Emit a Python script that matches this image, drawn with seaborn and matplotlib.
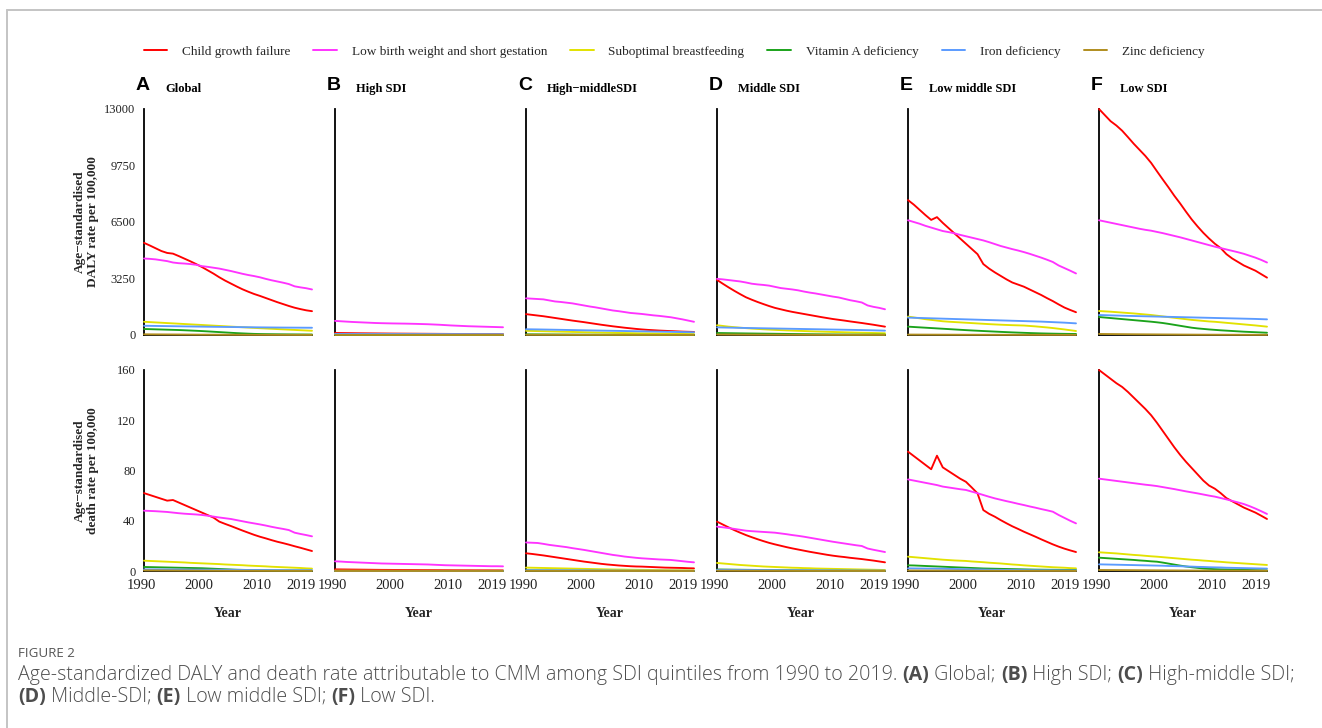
import matplotlib
matplotlib.use("Agg")
import matplotlib.pyplot as plt
import matplotlib.transforms as mtransforms
from matplotlib.lines import Line2D
import pandas as pd
import seaborn as sns

# ---------------------------------------------------------------- data
years = list(range(1990, 2020))
risk_names = ["Child growth failure", "Low birth weight and short gestation",
              "Suboptimal breastfeeding", "Vitamin A deficiency",
              "Iron deficiency", "Zinc deficiency"]
risk_colors = ["#FF0000", "#FF33FF", "#E2E200", "#1BA31B", "#5B9BFF", "#B08D1E"]

region_letters = ["A", "B", "C", "D", "E", "F"]
region_titles = ["Global", "High SDI", "High\u2212middleSDI", "Middle SDI",
                 "Low middle SDI", "Low SDI"]

daly_ticks = [0, 3250, 6500, 9750, 13000]
death_ticks = [0, 40, 80, 120, 160]
year_ticks = [1990, 2000, 2010, 2019]

# Global -- DALY rate
glob_daly_growth = [5300, 5150, 4990, 4830, 4720, 4680, 4540, 4390, 4240, 4080, 3910, 3720, 3530, 3320, 3130,
                    2960, 2790, 2630, 2490, 2360, 2250, 2130, 2010, 1890, 1780, 1670, 1570, 1490, 1420, 1370]
glob_daly_lbw = [4400, 4380, 4350, 4300, 4250, 4170, 4130, 4110, 4080, 4040, 3960, 3920, 3870, 3820, 3750,
                 3680, 3600, 3520, 3450, 3390, 3320, 3230, 3150, 3080, 3010, 2930, 2800, 2740, 2690, 2620]
glob_daly_breast = [760, 742, 723, 705, 686, 668, 650, 631, 612, 594, 576, 557, 539, 520, 502,
                    483, 465, 446, 428, 410, 392, 375, 358, 341, 324, 307, 291, 275, 259, 243]
glob_daly_vita = [345, 336, 326, 316, 306, 296, 286, 272, 257, 242, 226, 207, 187, 167, 147,
                  127, 108, 92, 77, 64, 56, 50, 46, 42, 39, 36, 34, 32, 30, 28]
glob_daly_iron = [530, 526, 521, 516, 511, 506, 501, 496, 491, 486, 481, 476, 471, 467, 463,
                  459, 455, 451, 447, 443, 439, 436, 433, 430, 427, 425, 423, 421, 419, 417]
glob_daly_zinc = [40, 38, 36, 34, 32, 30, 28, 26, 24, 22, 20, 19, 18, 17, 16,
                  15, 14, 13, 12, 11, 10, 10, 9, 9, 8, 8, 7, 7, 7, 6]

# Global -- death rate
glob_death_growth = [62.0, 60.5, 59.0, 57.5, 56.0, 56.5, 54.5, 52.5, 50.5, 48.5, 46.5, 44.5, 42.5, 39.3, 37.5,
                     35.8, 34.0, 32.2, 30.5, 28.8, 27.3, 26.0, 24.6, 23.3, 22.2, 21.0, 19.7, 18.5, 17.2, 15.9]
glob_death_lbw = [48.0, 47.8, 47.6, 47.3, 47.0, 46.5, 46.0, 45.6, 45.3, 45.0, 44.6, 44.0, 43.3, 42.6, 42.0,
                  41.4, 40.5, 39.6, 38.7, 37.9, 37.1, 36.2, 35.2, 34.3, 33.5, 32.6, 30.5, 29.5, 28.6, 27.6]
glob_death_breast = [8.2, 8.0, 7.8, 7.6, 7.4, 7.2, 7.0, 6.8, 6.5, 6.3, 6.1, 5.9, 5.7, 5.5, 5.2,
                     5.0, 4.8, 4.6, 4.3, 4.1, 3.9, 3.7, 3.4, 3.2, 3.0, 2.8, 2.6, 2.4, 2.1, 1.9]
glob_death_vita = [3.2, 3.1, 3.0, 2.9, 2.8, 2.7, 2.6, 2.5, 2.4, 2.3, 2.2, 2.0, 1.8, 1.6, 1.4,
                   1.2, 1.0, 0.9, 0.8, 0.7, 0.6, 0.55, 0.5, 0.45, 0.4, 0.4, 0.35, 0.35, 0.3, 0.3]
glob_death_iron = [1.3, 1.28, 1.26, 1.24, 1.22, 1.2, 1.17, 1.14, 1.11, 1.08, 1.05, 1.02, 0.99, 0.96, 0.93,
                   0.9, 0.87, 0.84, 0.81, 0.78, 0.76, 0.74, 0.72, 0.7, 0.68, 0.66, 0.64, 0.62, 0.61, 0.6]
glob_death_zinc = [0.5, 0.48, 0.46, 0.44, 0.42, 0.4, 0.38, 0.36, 0.34, 0.32, 0.3, 0.28, 0.26, 0.24, 0.22,
                   0.2, 0.19, 0.18, 0.17, 0.16, 0.15, 0.14, 0.13, 0.12, 0.12, 0.11, 0.11, 0.1, 0.1, 0.1]

# High SDI -- DALY rate
high_daly_growth = [116, 112, 108, 104, 100, 97, 94, 91, 88, 85, 82, 80, 78, 76, 74,
                    72, 70, 68, 66, 64, 62, 60, 59, 58, 57, 56, 55, 54, 53, 52]
high_daly_lbw = [812, 790, 770, 750, 735, 720, 705, 690, 680, 672, 665, 660, 655, 648, 640,
                 630, 620, 605, 590, 570, 550, 535, 520, 505, 495, 485, 475, 465, 455, 445]
high_daly_breast = [45, 44, 43, 42, 41, 40, 39, 38, 37, 36, 35, 34, 33, 32, 31,
                    30, 29, 28, 27, 26, 25, 25, 24, 24, 23, 23, 22, 22, 21, 21]
high_daly_vita = [6, 6, 5, 5, 5, 5, 4, 4, 4, 4, 3, 3, 3, 3, 3,
                  3, 2, 2, 2, 2, 2, 2, 2, 2, 2, 2, 2, 2, 2, 2]
high_daly_iron = [60, 59, 58, 58, 57, 56, 56, 55, 55, 54, 54, 53, 53, 52, 52,
                  51, 51, 50, 50, 49, 49, 48, 48, 47, 47, 46, 46, 45, 45, 45]
high_daly_zinc = [5, 5, 5, 4, 4, 4, 4, 4, 3, 3, 3, 3, 3, 3, 3,
                  2, 2, 2, 2, 2, 2, 2, 2, 2, 2, 2, 2, 2, 2, 2]

# High SDI -- death rate
high_death_growth = [1.3, 1.25, 1.2, 1.15, 1.1, 1.05, 1.0, 0.95, 0.9, 0.88, 0.85, 0.82, 0.8, 0.78, 0.75,
                     0.72, 0.7, 0.68, 0.66, 0.64, 0.62, 0.6, 0.59, 0.58, 0.56, 0.55, 0.54, 0.53, 0.52, 0.5]
high_death_lbw = [7.7, 7.5, 7.2, 7.0, 6.8, 6.6, 6.4, 6.2, 6.0, 5.9, 5.8, 5.7, 5.6, 5.5, 5.4,
                  5.3, 5.2, 5.0, 4.8, 4.6, 4.5, 4.4, 4.3, 4.2, 4.1, 4.0, 3.9, 3.8, 3.8, 3.7]
high_death_breast = [0.3, 0.29, 0.28, 0.27, 0.26, 0.25, 0.24, 0.23, 0.22, 0.21, 0.2, 0.19, 0.18, 0.17, 0.16,
                     0.16, 0.15, 0.14, 0.14, 0.13, 0.13, 0.12, 0.12, 0.11, 0.11, 0.1, 0.1, 0.1, 0.1, 0.1]
high_death_vita = [0.06, 0.06, 0.06, 0.05, 0.05, 0.05, 0.05, 0.04, 0.04, 0.04, 0.04, 0.04, 0.03, 0.03, 0.03,
                   0.03, 0.03, 0.03, 0.02, 0.02, 0.02, 0.02, 0.02, 0.02, 0.02, 0.02, 0.02, 0.02, 0.02, 0.02]
high_death_iron = [0.12, 0.12, 0.12, 0.11, 0.11, 0.11, 0.11, 0.1, 0.1, 0.1, 0.1, 0.1, 0.1, 0.09, 0.09,
                   0.09, 0.09, 0.09, 0.09, 0.09, 0.08, 0.08, 0.08, 0.08, 0.08, 0.08, 0.08, 0.08, 0.08, 0.08]
high_death_zinc = [0.04, 0.04, 0.04, 0.04, 0.04, 0.03, 0.03, 0.03, 0.03, 0.03, 0.03, 0.03, 0.03, 0.03, 0.03,
                   0.02, 0.02, 0.02, 0.02, 0.02, 0.02, 0.02, 0.02, 0.02, 0.02, 0.02, 0.02, 0.02, 0.02, 0.02]

# High-middle SDI -- DALY rate
hmid_daly_growth = [1200, 1160, 1120, 1080, 1030, 980, 930, 880, 830, 785, 740, 690, 640, 590, 545,
                    500, 460, 420, 385, 350, 320, 295, 275, 255, 240, 225, 210, 195, 185, 175]
hmid_daly_lbw = [2110, 2090, 2070, 2050, 1990, 1930, 1900, 1860, 1820, 1760, 1700, 1640, 1590, 1530, 1470,
                 1410, 1370, 1320, 1270, 1240, 1210, 1170, 1130, 1100, 1060, 1020, 960, 900, 830, 760]
hmid_daly_breast = [240, 233, 225, 217, 209, 201, 193, 185, 177, 169, 161, 153, 146, 139, 132,
                    125, 118, 112, 106, 100, 94, 89, 84, 79, 74, 70, 66, 62, 58, 54]
hmid_daly_vita = [40, 38, 36, 34, 32, 30, 28, 26, 24, 22, 20, 18, 17, 15, 14,
                  13, 12, 11, 10, 9, 9, 8, 8, 7, 7, 6, 6, 6, 5, 5]
hmid_daly_iron = [330, 326, 321, 315, 309, 303, 297, 290, 284, 277, 271, 265, 259, 253, 247,
                  241, 235, 229, 223, 217, 211, 205, 199, 193, 187, 181, 175, 169, 163, 157]
hmid_daly_zinc = [14, 13, 13, 12, 12, 11, 11, 10, 10, 9, 9, 8, 8, 7, 7,
                  7, 6, 6, 6, 5, 5, 5, 5, 4, 4, 4, 4, 4, 3, 3]

# High-middle SDI -- death rate
hmid_death_growth = [14.1, 13.6, 13.0, 12.4, 11.7, 11.0, 10.3, 9.6, 8.9, 8.2, 7.5, 6.9, 6.3, 5.7, 5.2,
                     4.8, 4.4, 4.1, 3.8, 3.6, 3.5, 3.3, 3.1, 2.9, 2.7, 2.6, 2.5, 2.4, 2.2, 2.1]
hmid_death_lbw = [22.7, 22.5, 22.3, 21.6, 20.8, 20.2, 19.6, 19.0, 18.2, 17.5, 16.8, 16.0, 15.2, 14.4, 13.6,
                  12.8, 12.2, 11.5, 11.0, 10.5, 10.1, 9.8, 9.5, 9.2, 9.0, 8.8, 8.3, 7.8, 7.3, 6.9]
hmid_death_breast = [2.7, 2.6, 2.5, 2.4, 2.3, 2.2, 2.1, 2.0, 1.9, 1.8, 1.7, 1.6, 1.5, 1.4, 1.3,
                     1.2, 1.15, 1.1, 1.0, 0.95, 0.9, 0.85, 0.8, 0.75, 0.7, 0.65, 0.6, 0.58, 0.55, 0.5]
hmid_death_vita = [0.5, 0.48, 0.45, 0.42, 0.4, 0.37, 0.34, 0.31, 0.28, 0.25, 0.22, 0.2, 0.18, 0.16, 0.14,
                   0.12, 0.11, 0.1, 0.09, 0.08, 0.07, 0.07, 0.06, 0.06, 0.05, 0.05, 0.05, 0.05, 0.05, 0.05]
hmid_death_iron = [0.6, 0.59, 0.57, 0.55, 0.54, 0.52, 0.5, 0.48, 0.46, 0.45, 0.43, 0.41, 0.4, 0.38, 0.36,
                   0.35, 0.33, 0.32, 0.3, 0.29, 0.28, 0.27, 0.26, 0.25, 0.24, 0.23, 0.22, 0.21, 0.2, 0.2]
hmid_death_zinc = [0.12, 0.11, 0.11, 0.1, 0.1, 0.09, 0.09, 0.08, 0.08, 0.07, 0.07, 0.06, 0.06, 0.05, 0.05,
                   0.05, 0.04, 0.04, 0.04, 0.04, 0.03, 0.03, 0.03, 0.03, 0.03, 0.02, 0.02, 0.02, 0.02, 0.02]

# Middle SDI -- DALY rate
mid_daly_growth = [3170, 2950, 2740, 2540, 2350, 2170, 2030, 1900, 1780, 1665, 1560, 1480, 1400, 1330, 1270,
                   1210, 1150, 1090, 1030, 975, 920, 875, 830, 780, 735, 690, 640, 590, 535, 480]
mid_daly_lbw = [3230, 3200, 3160, 3120, 3080, 3020, 2950, 2910, 2880, 2840, 2770, 2700, 2660, 2620, 2570,
                2500, 2440, 2390, 2330, 2270, 2210, 2160, 2080, 2000, 1940, 1870, 1700, 1620, 1560, 1480]
mid_daly_breast = [560, 520, 480, 450, 420, 395, 370, 350, 330, 312, 295, 280, 265, 252, 240,
                   228, 216, 205, 195, 185, 175, 166, 157, 148, 140, 132, 124, 116, 108, 100]
mid_daly_vita = [115, 110, 105, 100, 95, 90, 86, 82, 78, 74, 70, 66, 62, 58, 54,
                 50, 46, 42, 39, 36, 33, 31, 29, 27, 25, 24, 23, 22, 21, 20]
mid_daly_iron = [440, 432, 425, 418, 411, 404, 398, 392, 386, 380, 374, 368, 362, 356, 350,
                 344, 338, 332, 326, 320, 314, 308, 302, 296, 290, 284, 276, 268, 259, 250]
mid_daly_zinc = [30, 29, 27, 26, 24, 23, 21, 20, 19, 18, 17, 16, 15, 14, 13,
                 12, 11, 11, 10, 9, 9, 8, 8, 7, 7, 6, 6, 6, 5, 5]

# Middle SDI -- death rate
mid_death_growth = [39.3, 37.0, 34.7, 32.5, 30.5, 28.6, 26.9, 25.3, 23.8, 22.4, 21.2, 20.1, 19.0, 18.0, 17.1,
                    16.2, 15.3, 14.5, 13.7, 12.9, 12.2, 11.6, 11.1, 10.5, 10.0, 9.5, 8.9, 8.3, 7.6, 6.9]
mid_death_lbw = [35.3, 34.8, 34.2, 33.5, 32.8, 32.1, 31.7, 31.4, 31.1, 30.8, 30.5, 29.9, 29.3, 28.6, 28.0,
                 27.3, 26.5, 25.7, 24.9, 24.1, 23.3, 22.6, 21.9, 21.2, 20.5, 19.9, 17.9, 16.9, 16.0, 15.1]
mid_death_breast = [6.4, 6.0, 5.6, 5.2, 4.8, 4.5, 4.2, 3.9, 3.6, 3.4, 3.2, 3.0, 2.8, 2.6, 2.5,
                    2.3, 2.2, 2.0, 1.9, 1.8, 1.7, 1.6, 1.5, 1.4, 1.3, 1.2, 1.1, 1.0, 0.9, 0.8]
mid_death_vita = [1.2, 1.15, 1.1, 1.05, 1.0, 0.95, 0.9, 0.85, 0.8, 0.75, 0.7, 0.65, 0.6, 0.55, 0.5,
                  0.45, 0.4, 0.36, 0.32, 0.29, 0.26, 0.23, 0.2, 0.18, 0.16, 0.14, 0.13, 0.12, 0.11, 0.1]
mid_death_iron = [0.9, 0.88, 0.86, 0.84, 0.82, 0.8, 0.78, 0.76, 0.74, 0.72, 0.7, 0.67, 0.64, 0.61, 0.58,
                  0.55, 0.52, 0.5, 0.48, 0.46, 0.44, 0.42, 0.4, 0.38, 0.36, 0.35, 0.34, 0.32, 0.31, 0.3]
mid_death_zinc = [0.3, 0.29, 0.27, 0.26, 0.24, 0.23, 0.21, 0.2, 0.19, 0.18, 0.17, 0.16, 0.15, 0.14, 0.13,
                  0.12, 0.11, 0.11, 0.1, 0.09, 0.09, 0.08, 0.08, 0.07, 0.07, 0.06, 0.06, 0.06, 0.05, 0.05]

# Low-middle SDI -- DALY rate
lmid_daly_growth = [7760, 7500, 7200, 6900, 6620, 6780, 6450, 6150, 5850, 5550, 5250, 4950, 4650, 4080, 3820,
                    3600, 3400, 3200, 3020, 2900, 2780, 2620, 2460, 2300, 2120, 1950, 1760, 1580, 1440, 1310]
lmid_daly_lbw = [6600, 6500, 6400, 6280, 6180, 6080, 5980, 5920, 5850, 5760, 5680, 5600, 5520, 5440, 5340,
                 5230, 5120, 5030, 4940, 4860, 4770, 4670, 4560, 4450, 4330, 4200, 4000, 3850, 3700, 3540]
lmid_daly_breast = [1060, 1010, 960, 910, 870, 830, 790, 765, 745, 725, 705, 685, 665, 645, 625,
                    608, 592, 578, 565, 555, 545, 520, 495, 465, 435, 400, 360, 320, 275, 230]
lmid_daly_vita = [480, 460, 440, 420, 400, 380, 360, 340, 320, 300, 280, 262, 245, 228, 212,
                  196, 180, 165, 150, 137, 125, 113, 102, 92, 84, 77, 71, 66, 62, 60]
lmid_daly_iron = [1000, 990, 980, 970, 960, 950, 940, 930, 920, 910, 900, 890, 880, 870, 860,
                  850, 840, 830, 820, 810, 800, 790, 780, 770, 755, 740, 725, 710, 690, 670]
lmid_daly_zinc = [25, 24, 23, 22, 21, 20, 19, 18, 17, 16, 15, 15, 14, 14, 13,
                  13, 12, 12, 11, 11, 10, 10, 10, 9, 9, 9, 9, 8, 8, 8]

# Low-middle SDI -- death rate
lmid_death_growth = [95.0, 91.5, 88.0, 84.5, 81.0, 91.8, 82.5, 79.5, 76.5, 73.5, 71.0, 66.5, 61.8, 48.5, 45.5,
                     43.2, 40.5, 38.0, 35.6, 33.5, 31.3, 29.3, 27.3, 25.2, 23.2, 21.2, 19.4, 17.8, 16.4, 15.1]
lmid_death_lbw = [72.9, 72.0, 71.1, 70.2, 69.3, 68.4, 67.2, 66.5, 65.8, 65.1, 64.5, 63.2, 61.9, 60.5, 59.1,
                  57.8, 56.7, 55.6, 54.6, 53.5, 52.5, 51.4, 50.4, 49.3, 48.3, 47.2, 44.6, 42.3, 40.0, 37.9]
lmid_death_breast = [11.4, 11.0, 10.6, 10.2, 9.8, 9.4, 9.0, 8.7, 8.4, 8.2, 8.0, 7.6, 7.3, 7.0, 6.6,
                     6.3, 6.0, 5.6, 5.2, 4.9, 4.5, 4.2, 3.9, 3.6, 3.3, 3.0, 2.8, 2.6, 2.3, 2.1]
lmid_death_vita = [4.5, 4.4, 4.2, 4.0, 3.8, 3.6, 3.4, 3.2, 3.0, 2.8, 2.6, 2.4, 2.2, 2.0, 1.9,
                   1.8, 1.7, 1.6, 1.5, 1.4, 1.3, 1.2, 1.1, 1.05, 1.0, 0.95, 0.9, 0.85, 0.8, 0.8]
lmid_death_iron = [2.1, 2.05, 2.0, 1.95, 1.9, 1.85, 1.8, 1.7, 1.6, 1.5, 1.4, 1.3, 1.2, 1.1, 1.0,
                   0.95, 0.9, 0.85, 0.8, 0.75, 0.7, 0.68, 0.65, 0.62, 0.6, 0.58, 0.56, 0.54, 0.52, 0.5]
lmid_death_zinc = [0.4, 0.39, 0.37, 0.36, 0.34, 0.33, 0.31, 0.3, 0.28, 0.27, 0.25, 0.24, 0.23, 0.22, 0.21,
                   0.2, 0.19, 0.18, 0.17, 0.16, 0.15, 0.14, 0.14, 0.13, 0.13, 0.12, 0.12, 0.11, 0.11, 0.1]

# Low SDI -- DALY rate
low_daly_growth = [13000, 12650, 12300, 12050, 11750, 11380, 11000, 10650, 10300, 9900, 9420, 8950, 8490, 8010, 7570,
                   7100, 6650, 6250, 5880, 5550, 5250, 5000, 4650, 4400, 4200, 4000, 3850, 3700, 3500, 3300]
low_daly_lbw = [6600, 6530, 6460, 6390, 6320, 6250, 6180, 6110, 6050, 6000, 5930, 5860, 5780, 5700, 5620,
                5530, 5440, 5350, 5260, 5170, 5080, 5000, 4920, 4840, 4760, 4670, 4560, 4450, 4320, 4170]
low_daly_breast = [1380, 1360, 1340, 1315, 1290, 1265, 1240, 1210, 1180, 1150, 1110, 1070, 1030, 990, 950,
                   910, 870, 840, 810, 780, 760, 730, 700, 670, 640, 610, 580, 550, 515, 480]
low_daly_vita = [1035, 1005, 975, 945, 915, 885, 855, 825, 795, 765, 730, 690, 640, 585, 530,
                 475, 420, 380, 350, 320, 295, 270, 250, 230, 210, 190, 175, 160, 145, 130]
low_daly_iron = [1150, 1140, 1130, 1120, 1110, 1100, 1092, 1084, 1076, 1068, 1060, 1052, 1044, 1036, 1028,
                 1020, 1012, 1004, 996, 988, 980, 972, 964, 956, 948, 940, 932, 924, 912, 900]
low_daly_zinc = [60, 57, 54, 51, 48, 45, 42, 40, 38, 36, 34, 32, 30, 28, 26,
                 24, 22, 20, 19, 18, 17, 16, 15, 14, 13, 12, 11, 10, 10, 10]

# Low SDI -- death rate
low_death_growth = [160.0, 156.5, 153.0, 149.5, 146.5, 142.5, 138.0, 133.5, 129.0, 124.0, 118.0, 111.5, 105.0, 98.5, 92.5,
                    87.0, 82.0, 77.0, 72.0, 68.0, 65.5, 62.0, 58.0, 55.5, 53.0, 50.5, 48.5, 46.5, 44.0, 41.4]
low_death_lbw = [73.5, 72.9, 72.3, 71.7, 71.1, 70.5, 69.9, 69.3, 68.7, 68.2, 67.6, 66.8, 66.0, 65.2, 64.3,
                 63.4, 62.6, 61.8, 60.9, 60.0, 59.2, 58.1, 57.0, 55.8, 54.6, 53.3, 51.6, 49.7, 47.6, 45.4]
low_death_breast = [14.9, 14.6, 14.3, 14.0, 13.6, 13.2, 12.8, 12.5, 12.1, 11.7, 11.4, 11.0, 10.6, 10.2, 9.8,
                    9.4, 9.0, 8.7, 8.3, 8.0, 7.6, 7.3, 6.9, 6.6, 6.3, 6.0, 5.7, 5.4, 5.1, 4.8]
low_death_vita = [10.6, 10.3, 10.0, 9.7, 9.4, 9.1, 8.8, 8.4, 8.1, 7.7, 7.4, 6.7, 5.9, 5.1, 4.3,
                  3.6, 3.0, 2.5, 2.0, 1.7, 1.5, 1.3, 1.2, 1.1, 1.0, 0.9, 0.8, 0.7, 0.6, 0.5]
low_death_iron = [5.3, 5.2, 5.1, 5.0, 4.9, 4.8, 4.7, 4.6, 4.5, 4.4, 4.3, 4.2, 4.0, 3.9, 3.8,
                  3.6, 3.5, 3.3, 3.2, 3.0, 2.9, 2.8, 2.6, 2.5, 2.4, 2.3, 2.2, 2.1, 2.0, 1.9]
low_death_zinc = [0.8, 0.78, 0.75, 0.72, 0.7, 0.67, 0.64, 0.61, 0.58, 0.55, 0.52, 0.5, 0.47, 0.45, 0.42,
                  0.4, 0.38, 0.36, 0.34, 0.32, 0.3, 0.29, 0.27, 0.26, 0.25, 0.24, 0.23, 0.22, 0.21, 0.2]

daly_series = [
    [glob_daly_growth, glob_daly_lbw, glob_daly_breast, glob_daly_vita, glob_daly_iron, glob_daly_zinc],
    [high_daly_growth, high_daly_lbw, high_daly_breast, high_daly_vita, high_daly_iron, high_daly_zinc],
    [hmid_daly_growth, hmid_daly_lbw, hmid_daly_breast, hmid_daly_vita, hmid_daly_iron, hmid_daly_zinc],
    [mid_daly_growth, mid_daly_lbw, mid_daly_breast, mid_daly_vita, mid_daly_iron, mid_daly_zinc],
    [lmid_daly_growth, lmid_daly_lbw, lmid_daly_breast, lmid_daly_vita, lmid_daly_iron, lmid_daly_zinc],
    [low_daly_growth, low_daly_lbw, low_daly_breast, low_daly_vita, low_daly_iron, low_daly_zinc],
]
death_series = [
    [glob_death_growth, glob_death_lbw, glob_death_breast, glob_death_vita, glob_death_iron, glob_death_zinc],
    [high_death_growth, high_death_lbw, high_death_breast, high_death_vita, high_death_iron, high_death_zinc],
    [hmid_death_growth, hmid_death_lbw, hmid_death_breast, hmid_death_vita, hmid_death_iron, hmid_death_zinc],
    [mid_death_growth, mid_death_lbw, mid_death_breast, mid_death_vita, mid_death_iron, mid_death_zinc],
    [lmid_death_growth, lmid_death_lbw, lmid_death_breast, lmid_death_vita, lmid_death_iron, lmid_death_zinc],
    [low_death_growth, low_death_lbw, low_death_breast, low_death_vita, low_death_iron, low_death_zinc],
]


def long_frame(series_list):
    rows = []
    for name, values in zip(risk_names, series_list):
        for yr, v in zip(years, values):
            rows.append({"year": yr, "value": v, "risk": name})
    return pd.DataFrame(rows)


# ---------------------------------------------------------------- style
sns.set_style("white")
SERIF = ["Liberation Serif", "DejaVu Serif"]
SANS = ["Liberation Sans", "DejaVu Sans"]
plt.rcParams["font.family"] = SERIF
plt.rcParams["axes.unicode_minus"] = True

W, H = 1322, 728
fig = plt.figure(figsize=(W / 100, H / 100), dpi=100)
fig.patch.set_facecolor("white")

palette = dict(zip(risk_names, risk_colors))

col_left = [144, 335, 526, 717, 908, 1099]
ax_w = 168
rows_px = [(109, 335), (370, 571)]   # (top, bottom) in pixels


def px_rect(left, top, bottom):
    return [left / W, 1 - bottom / H, ax_w / W, (bottom - top) / H]


for row, (top, bottom) in enumerate(rows_px):
    for col in range(6):
        ax = fig.add_axes(px_rect(col_left[col], top, bottom))
        data = long_frame((daly_series if row == 0 else death_series)[col])
        sns.lineplot(data=data, x="year", y="value", hue="risk", hue_order=risk_names,
                     palette=palette, ax=ax, legend=False, linewidth=1.35,
                     errorbar=None, estimator=None)
        for ln in ax.get_lines():
            ln.set_clip_on(False)
            ln.set_solid_joinstyle("round")
        ax.set_xlim(1990, 2019)
        ticks = daly_ticks if row == 0 else death_ticks
        ax.set_ylim(ticks[0], ticks[-1])
        ax.set_yticks(ticks)
        ax.set_xticks(year_ticks)
        for side in ("top", "right"):
            ax.spines[side].set_visible(False)
        for side in ("left", "bottom"):
            ax.spines[side].set_color("black")
            ax.spines[side].set_linewidth(1.3)
            ax.spines[side].set_zorder(1)
        ax.tick_params(axis="both", direction="out", length=4, width=1.1, color="black")
        ax.tick_params(axis="y", labelsize=9, labelcolor="#222222", pad=2)
        ax.tick_params(axis="x", labelsize=10.5, labelcolor="#222222", pad=2)
        ax.xaxis.get_major_ticks()[-1].tick1line.set_visible(False)
        ax.set_xlabel("")
        ax.set_ylabel("")
        if col != 0:
            ax.set_yticklabels([])
        else:
            ax.set_yticklabels([str(t) for t in ticks])
            label = ("Age\u2212standardised\nDALY rate per 100,000" if row == 0
                     else "Age\u2212standardised\ndeath rate per 100,000")
            ax.set_ylabel(label, fontsize=9.5, fontweight="bold", linespacing=1.05)
            ax.yaxis.set_label_coords(-0.27, 0.5)
        if row == 0:
            ax.set_xticklabels([])
        else:
            ax.set_xticklabels([str(t) for t in year_ticks])
            for i, lbl in enumerate(ax.get_xticklabels()):
                dx = -11 / 100 if i == len(year_ticks) - 1 else -3 / 100
                lbl.set_transform(lbl.get_transform() +
                                  mtransforms.ScaledTranslation(dx, 0, fig.dpi_scale_trans))
            ax.set_xlabel("Year", fontsize=10, fontweight="bold")
            ax.xaxis.set_label_coords(0.5, -0.18)
        ax.patch.set_alpha(0)

# panel letters and region titles
for col in range(6):
    fig.text((col_left[col] - 8) / W, 1 - 90 / H, region_letters[col], family=SANS,
             fontsize=14, fontweight="bold", ha="left", va="baseline", color="black")
    fig.text((col_left[col] + 21) / W, 1 - 92 / H, region_titles[col],
             fontsize=9, fontweight="bold", ha="left", va="baseline", color="black")

# shared legend
handles = [Line2D([0], [0], color=c, lw=1.4) for c in risk_colors]
fig.legend(handles, risk_names, loc="center", bbox_to_anchor=(674 / W, 1 - 52 / H),
           ncol=6, frameon=False, fontsize=9.5, handlelength=1.8, handletextpad=1.1,
           columnspacing=1.75)

# outer frame of the figure panel
frame_kw = dict(transform=fig.transFigure, color="#c4c4c4", lw=1.4)
fig.add_artist(Line2D([7 / W, 7 / W], [0, 1 - 10 / H], **frame_kw))
fig.add_artist(Line2D([7 / W, 1], [1 - 10 / H, 1 - 10 / H], **frame_kw))

# caption
CAP = ["Open Sans", "DejaVu Sans"]
fig.text(18 / W, 1 - 657 / H, "FIGURE 2", family=CAP, fontsize=9.6, color="#555555",
         ha="left", va="baseline")

renderer = fig.canvas.get_renderer()


def rich_line(x_px, y_px, parts):
    x = x_px
    for s, bold in parts:
        t = fig.text(x / W, 1 - y_px / H, s, family=CAP, fontsize=14.1,
                     fontweight="bold" if bold else "light", color="#4d4d4d",
                     ha="left", va="baseline")
        x += t.get_window_extent(renderer).width


rich_line(18, 680, [
    ("Age-standardized DALY and death rate attributable to CMM among SDI quintiles from 1990 to 2019. ", False),
    ("(A)", True), (" Global; ", False), ("(B)", True), (" High SDI; ", False),
    ("(C)", True), (" High-middle SDI;", False)])
rich_line(18, 702, [
    ("(D)", True), (" Middle-SDI; ", False), ("(E)", True), (" Low middle SDI; ", False),
    ("(F)", True), (" Low SDI.", False)])

fig.savefig("out.png", dpi=100, facecolor="white")
